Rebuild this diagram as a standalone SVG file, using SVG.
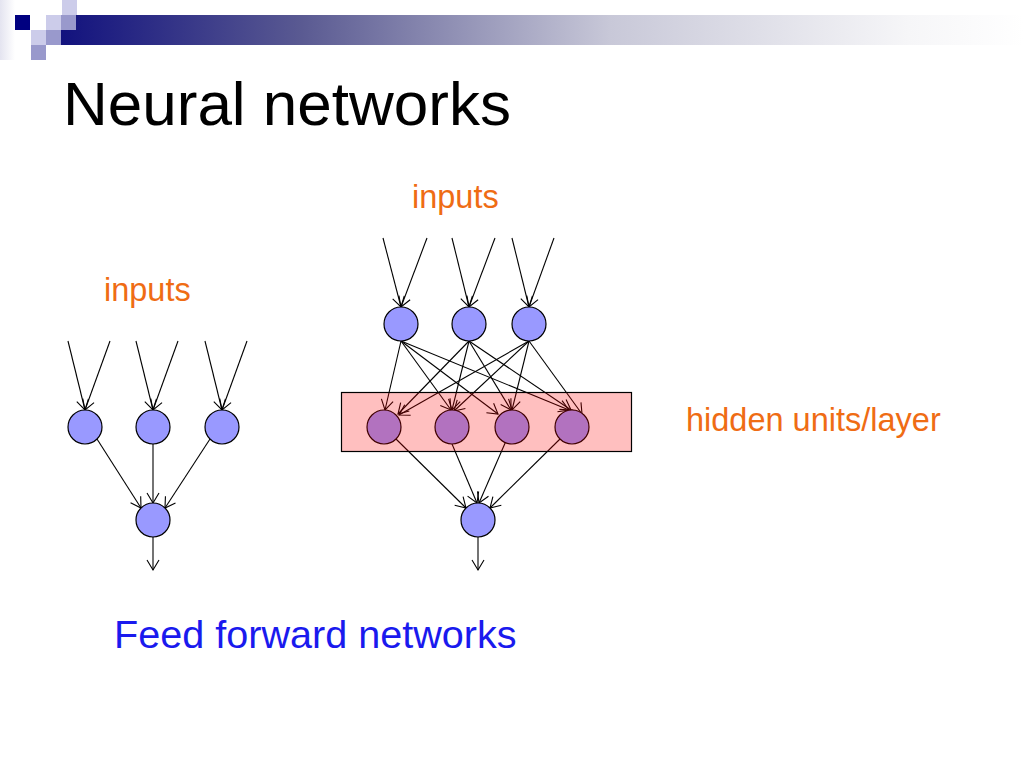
<svg xmlns="http://www.w3.org/2000/svg" width="1024" height="768" viewBox="0 0 1024 768">
<style>
.t{font-family:"Liberation Sans",Arial,sans-serif}
.or{fill:#ef6c14;font-size:32.5px}
.node{fill:#9999ff;stroke:#000;stroke-width:1.2}
.c line{stroke:#000;stroke-width:1.1;fill:none;marker-end:url(#ah)}
</style>
<defs>
<marker id="ah" markerUnits="userSpaceOnUse" markerWidth="14" markerHeight="14" refX="11" refY="7" orient="auto" viewBox="0 0 14 14">
<path d="M1,1 L11,7 L1,13" fill="none" stroke="#000" stroke-width="1.1"/>
</marker>
<linearGradient id="bar" gradientUnits="userSpaceOnUse" x1="61" y1="0" x2="1024" y2="0">
<stop offset="0" stop-color="#12127e"/>
<stop offset="0.25" stop-color="#5a5a92"/>
<stop offset="0.57" stop-color="#c8c8d8"/>
<stop offset="0.88" stop-color="#f6f6f8"/>
<stop offset="1" stop-color="#ffffff"/>
</linearGradient>
<linearGradient id="edge" x1="0" y1="0" x2="1" y2="0">
<stop offset="0" stop-color="#e4e4f0"/>
<stop offset="1" stop-color="#ffffff"/>
</linearGradient>
</defs>
<rect width="1024" height="768" fill="#fff"/>
<g id="header">
<rect x="0" y="0" width="15" height="60" fill="url(#edge)"/>
<rect x="61" y="15" width="963" height="30" fill="url(#bar)"/>
<rect x="62" y="0" width="15" height="15" fill="#ccccea"/>
<rect x="15" y="15" width="15" height="15" fill="#000080"/>
<rect x="46" y="15" width="15" height="15" fill="#ccccea"/>
<rect x="61" y="15" width="15" height="15" fill="#9999cc"/>
<rect x="31" y="30" width="15" height="15" fill="#ccccea"/>
<rect x="46" y="30" width="15" height="15" fill="#9999cc"/>
<rect x="31" y="45" width="15" height="15" fill="#9999cc"/>
</g>
<text class="t" x="63" y="125" font-size="62" fill="#000">Neural networks</text>
<text class="t or" x="104" y="301">inputs</text>
<text class="t or" x="412" y="208">inputs</text>
<text class="t or" x="686" y="431" font-size="34.3px">hidden units/layer</text>
<text class="t" x="114" y="648" font-size="39.6" fill="#1a1aee">Feed forward networks</text>
<g id="connectors" class="c">
<line x1="68" y1="341" x2="85" y2="410"/>
<line x1="110" y1="341" x2="85" y2="410"/>
<line x1="136" y1="341" x2="153" y2="410"/>
<line x1="178" y1="341" x2="153" y2="410"/>
<line x1="205" y1="341" x2="222" y2="410"/>
<line x1="247" y1="341" x2="222" y2="410"/>
<line x1="97" y1="439" x2="141" y2="508"/>
<line x1="153" y1="444" x2="153" y2="503"/>
<line x1="210" y1="439" x2="165" y2="508"/>
<line x1="153" y1="537" x2="153" y2="570"/>
<line x1="383" y1="238" x2="401" y2="307"/>
<line x1="427" y1="238" x2="401" y2="307"/>
<line x1="452" y1="238" x2="469" y2="307"/>
<line x1="495" y1="238" x2="469" y2="307"/>
<line x1="512" y1="238" x2="529" y2="307"/>
<line x1="554" y1="238" x2="529" y2="307"/>
<line x1="401" y1="341" x2="385" y2="410"/>
<line x1="401" y1="341" x2="451" y2="410"/>
<line x1="401" y1="341" x2="498" y2="414"/>
<line x1="401" y1="341" x2="569" y2="410"/>
<line x1="469" y1="341" x2="398" y2="414"/>
<line x1="469" y1="341" x2="452" y2="410"/>
<line x1="469" y1="341" x2="511" y2="410"/>
<line x1="469" y1="341" x2="571" y2="410"/>
<line x1="529" y1="341" x2="399" y2="415"/>
<line x1="529" y1="341" x2="454" y2="411"/>
<line x1="529" y1="341" x2="512" y2="410"/>
<line x1="529" y1="341" x2="582" y2="414"/>
<line x1="396" y1="439" x2="466" y2="508"/>
<line x1="452" y1="444" x2="477" y2="503"/>
<line x1="506" y1="441" x2="479" y2="503"/>
<line x1="560" y1="439" x2="490" y2="508"/>
<line x1="478" y1="537" x2="478" y2="570"/>
</g>
<g id="in1"><circle class="node" cx="85" cy="427" r="17"/></g>
<g id="in2"><circle class="node" cx="153" cy="427" r="17"/></g>
<g id="in3"><circle class="node" cx="222" cy="427" r="17"/></g>
<g id="out1"><circle class="node" cx="153" cy="520" r="17"/></g>
<g id="r-in1"><circle class="node" cx="401" cy="324" r="17"/></g>
<g id="r-in2"><circle class="node" cx="469" cy="324" r="17"/></g>
<g id="r-in3"><circle class="node" cx="529" cy="324" r="17"/></g>
<g id="h1"><circle class="node" cx="384" cy="427" r="17"/></g>
<g id="h2"><circle class="node" cx="452" cy="427" r="17"/></g>
<g id="h3"><circle class="node" cx="512" cy="427" r="17"/></g>
<g id="h4"><circle class="node" cx="572" cy="427" r="17"/></g>
<g id="out2"><circle class="node" cx="478" cy="520" r="17"/></g>
<g id="hidden-layer"><rect x="341.5" y="392.5" width="290" height="59" fill="#ff0000" fill-opacity="0.25" stroke="#000" stroke-width="1.2"/></g>
</svg>
